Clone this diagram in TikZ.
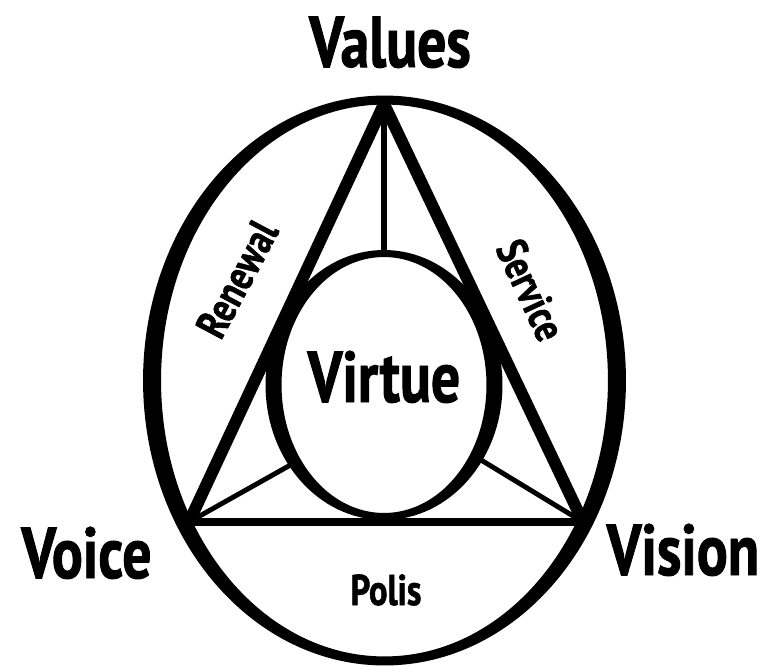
\documentclass[tikz,border=0pt]{standalone}
\usepackage{fontspec}
\usepackage{tikz}
\usetikzlibrary{shapes.geometric}
\newfontfamily\narrowbold[FakeStretch=0.8,FakeBold=1.3]{PT Sans}

\begin{document}
\begin{tikzpicture}[
  x=0.02cm,y=-0.02cm,
  bigword/.style={font=\narrowbold\bfseries\fontsize{41}{41}\selectfont,anchor=base,inner sep=0pt},
  smallword/.style={font=\narrowbold\bfseries\fontsize{24.5}{24.5}\selectfont,inner sep=0pt},
  side/.style={line width=6.8pt,line join=round},
  baseline/.style={line width=4.5pt},
  spoke/.style={line width=2.8pt}
]
\useasboundingbox (0,0) rectangle (768,666);
% outer rim
\fill[even odd rule] (384.5,380.5) ellipse [x radius=4.83cm,y radius=5.70cm]
                     (384.5,380.5) ellipse [x radius=4.47cm,y radius=5.52cm];
% triangle corners
\coordinate (apex) at (384,104);
\coordinate (lcorner) at (189,522);
\coordinate (rcorner) at (583,522);
% inner oval
\node[ellipse,minimum width=4.42cm,minimum height=5.26cm,inner sep=0pt,outer sep=0pt] (virtue) at (384,385) {};
\fill[even odd rule] (virtue.center) ellipse [x radius=2.37cm,y radius=2.70cm]
                     (virtue.center) ellipse [x radius=2.05cm,y radius=2.56cm];
\draw[side] (lcorner) -- (apex) -- (rcorner);
\draw[baseline] (lcorner) -- (rcorner);
\draw[spoke,line width=3.7pt] (apex) -- (virtue.north);
\draw[spoke] (lcorner) -- (virtue.221);
\draw[spoke] (rcorner) -- (virtue.322);
% labels
\node[bigword] (values) at (390,67) {Values};
\node[bigword] (voice) at (86.5,578) {Voice};
\node[bigword] (vision) at (683,575) {Vision};
\node[bigword] (virtuetext) at (384,402) {Virtue};
\node[smallword,anchor=base] (polis) at (386,605) {Polis};
\node[smallword,rotate=62] (renewal) at (237,279) {Renewal};
\node[smallword,rotate=-65] (service) at (531,290) {Service};
\end{tikzpicture}
\end{document}
